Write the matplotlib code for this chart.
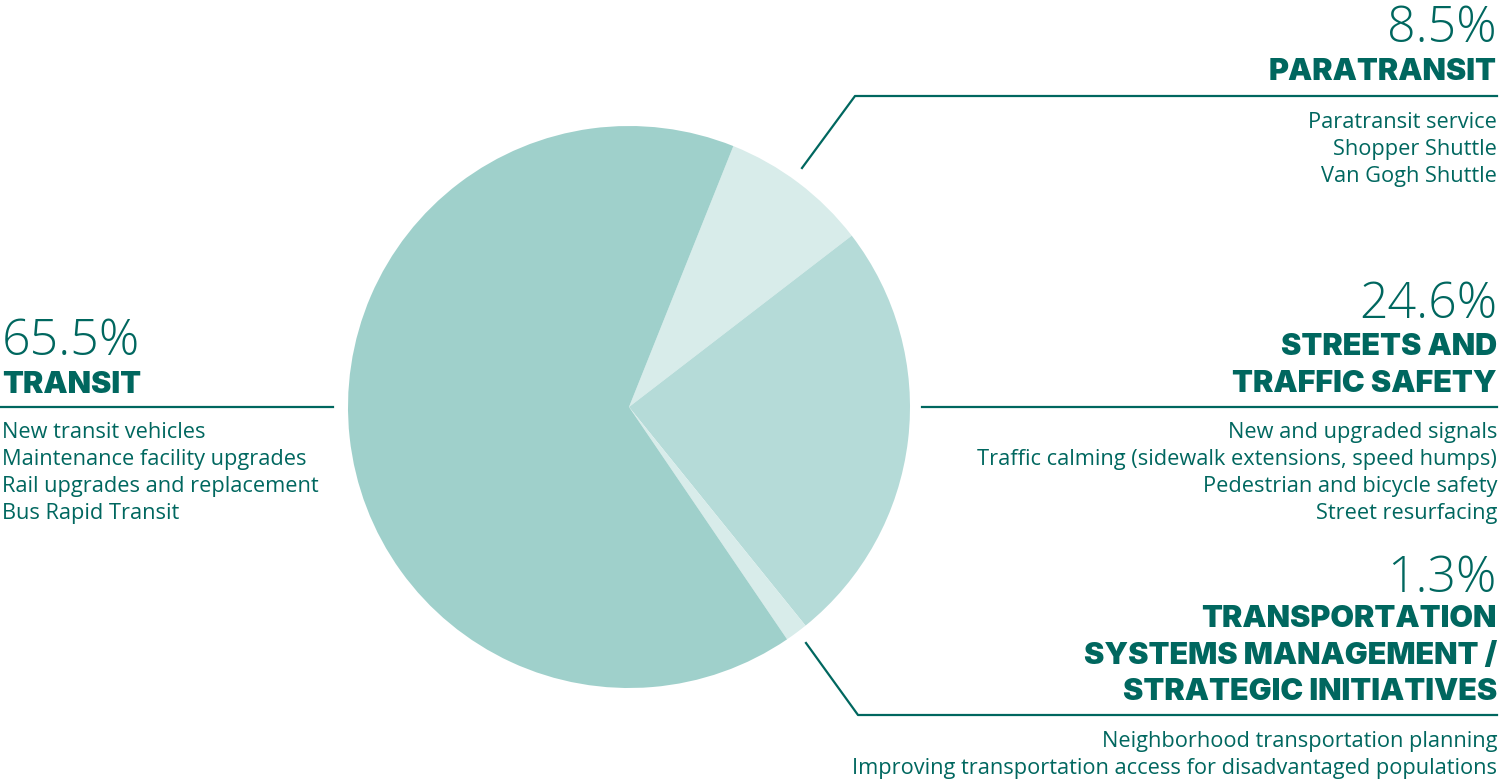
import numpy as np
import matplotlib.pyplot as plt

# shares of the program, in the order drawn clockwise from the top
labels = ['PARATRANSIT', 'STREETS AND\nTRAFFIC SAFETY',
          'TRANSPORTATION\nSYSTEMS MANAGEMENT /\nSTRATEGIC INITIATIVES', 'TRANSIT']
shares = [8.5, 24.6, 1.3, 65.5]
colors = ['#d8ecea', '#b5dbd8', '#d8ecea', '#9fd0cb']

items_para = ['Paratransit service', 'Shopper Shuttle', 'Van Gogh Shuttle']
items_transit = ['New transit vehicles', 'Maintenance facility upgrades',
                 'Rail upgrades and replacement', 'Bus Rapid Transit']
items_streets = ['New and upgraded signals',
                 'Traffic calming (sidewalk extensions, speed humps)',
                 'Pedestrian and bicycle safety', 'Street resurfacing']
items_tsm = ['Neighborhood transportation planning',
             'Improving transportation access for disadvantaged populations']

teal = '#00675f'
W, H = 1500, 783

fig = plt.figure(figsize=(15, 7.83), dpi=100)
ax = fig.add_axes([0, 0, 1, 1])

def Y(y):
    return H - y

ax.pie(shares, colors=colors, startangle=68.2, counterclock=False,
       center=(629, Y(407)), radius=281, frame=True,
       wedgeprops=dict(linewidth=0))
ax.set_xlim(0, W)
ax.set_ylim(0, H)
ax.set_aspect('equal')
ax.axis('off')

def block(x, ha, pct, pct_y, heads, head_y, items, item_y):
    ax.text(x, Y(pct_y), pct, ha=ha, va='baseline', fontsize=36,
            fontweight='light', color=teal, family=['Open Sans', 'DejaVu Sans'])
    for h, hy in zip(heads, head_y):
        ax.text(x, Y(hy), h, ha=ha, va='baseline', fontsize=22,
                fontweight='black', color=teal, family=['Inter', 'DejaVu Sans'])
    for i, t in enumerate(items):
        ax.text(x, Y(item_y + 27 * i), t, ha=ha, va='baseline', fontsize=15.7,
                color=teal, family=['Open Sans', 'DejaVu Sans'])

block(1497, 'right', '8.5%', 42, ['PARATRANSIT'], [80], items_para, 128)
block(2, 'left', '65.5%', 355, ['TRANSIT'], [393], items_transit, 438)
block(1497, 'right', '24.6%', 318, ['STREETS AND', 'TRAFFIC SAFETY'], [355, 392],
      items_streets, 438)
block(1497, 'right', '1.3%', 592,
      ['TRANSPORTATION', 'SYSTEMS MANAGEMENT /', 'STRATEGIC INITIATIVES'],
      [627, 664, 700], items_tsm, 747)

lw = 1.6
ax.plot([0, 333], [Y(407), Y(407)], color=teal, lw=lw)
ax.plot([802, 855, 1497], [Y(168), Y(96), Y(96)], color=teal, lw=lw)
ax.plot([922, 1497], [Y(407), Y(407)], color=teal, lw=lw)
ax.plot([806, 858, 1497], [Y(643), Y(715), Y(715)], color=teal, lw=lw)

fig.savefig('out.png', dpi=100)
